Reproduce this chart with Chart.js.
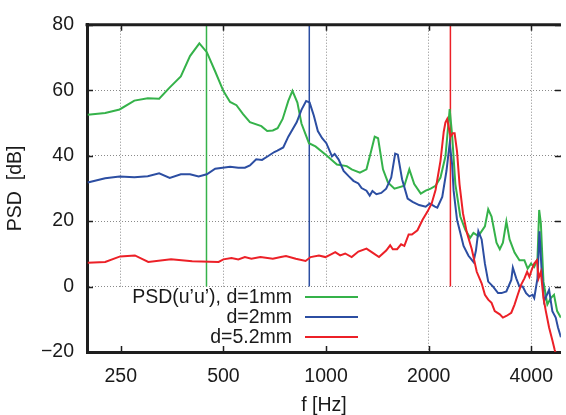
<!DOCTYPE html>
<html>
<head>
<meta charset="utf-8">
<script src="https://cdn.jsdelivr.net/npm/chart.js@4.4.1/dist/chart.umd.min.js"></script>
<style>
  html, body { margin: 0; padding: 0; background: #fff; }
</style>
</head>
<body>
<canvas id="psdChart" width="566" height="415"></canvas>
<script>
// PSD of u'u' for three nozzle diameters (log frequency axis)

const xTicks = [250, 500, 1000, 2000, 4000];
const yTicks = [-20, 0, 20, 40, 60, 80];

// d = 1mm
const freq1 = [200, 225, 248, 274, 300, 324, 347, 375, 399, 425, 447, 473, 500, 523, 546, 571, 598, 646, 672, 698,
    721, 746, 775, 797, 824, 847, 891, 931, 1002, 1076, 1150, 1189, 1257, 1314, 1359, 1389, 1421, 1469, 1519, 1587,
    1697, 1755, 1814, 1896, 1960, 2027, 2095, 2166, 2240, 2305, 2343, 2395, 2476, 2560, 2646, 2706, 2797, 2924, 2990, 3058,
    3162, 3233, 3302, 3380, 3454, 3572, 3692, 3818, 3903, 3992, 4080, 4170, 4218, 4266, 4342, 4458, 4563, 4663, 4762, 4885];
const psd1 = [52.5, 53.0, 54.1, 56.8, 57.5, 57.4, 60.7, 64.2, 70.4, 74.3, 71.6, 65.7, 59.7, 56.4, 55.4, 52.7, 50.2, 49.0, 47.5, 47.7,
    48.4, 51.2, 56.7, 59.8, 56.2, 49.8, 43.8, 42.8, 40.1, 37.3, 36.8, 35.8, 34.8, 35.8, 41.8, 45.8, 45.3, 35.8, 31.8, 29.9,
    30.8, 35.8, 31.3, 28.4, 29.3, 29.9, 30.8, 33.3, 39.8, 54.2, 46.3, 31.3, 21.4, 17.4, 14.9, 16.4, 15.4, 18.4, 23.6, 21.4,
    13.4, 11.4, 13.4, 19.9, 14.4, 10.4, 8.0, 8.0, 5.5, 7.0, 6.0, 8.5, 23.4, 19.4, 1.5, -5.5, -3.5, -2.5, -7.5, -9.5];

// d = 2mm
const freq2 = [200, 225, 248, 274, 300, 324, 348, 375, 399, 423, 447, 473, 523, 553, 578, 598, 624, 649, 675, 705,
    720, 749, 775, 820, 847, 874, 895, 921, 946, 974, 1002, 1041, 1060, 1089, 1126, 1163, 1203, 1244, 1271, 1314,
    1343, 1368, 1405, 1452, 1501, 1553, 1595, 1624, 1671, 1735, 1794, 1875, 1960, 2014, 2086, 2120, 2192, 2255, 2305, 2343,
    2367, 2422, 2476, 2531, 2617, 2706, 2752, 2797, 2860, 2924, 2990, 3090, 3195, 3270, 3380, 3494, 3531, 3613, 3692, 3774,
    3861, 3948, 4034, 4080, 4170, 4226, 4285, 4362, 4510, 4611, 4717, 4790, 4885];
const psd2 = [31.8, 33.1, 33.6, 33.4, 33.7, 34.6, 33.2, 34.3, 34.3, 33.6, 34.3, 36.0, 36.6, 36.3, 36.3, 37.0, 38.9, 38.7, 39.8, 41.1,
    41.5, 42.5, 45.8, 50.2, 54.0, 56.7, 56.2, 52.2, 47.5, 45.3, 43.8, 39.8, 40.5, 38.8, 35.3, 33.8, 32.3, 31.5, 30.1, 29.3,
    27.8, 29.2, 28.2, 28.6, 29.9, 33.3, 40.6, 40.3, 32.8, 26.9, 25.9, 24.9, 24.4, 25.4, 24.4, 24.1, 27.4, 35.3, 43.8, 37.3,
    29.3, 20.4, 16.4, 12.4, 9.4, 7.5, 11.0, 16.9, 14.4, 7.0, 1.5, 0.0, -2.0, -2.0, -1.5, 2.0, 5.8, 2.5, 0.0, 0.0,
    -2.0, -3.0, -2.5, -3.5, 2.5, 16.9, 5.5, -4.5, -1.0, -7.5, -9.5, -12.5, -15.5];

// d = 5.2mm
const freq3 = [200, 225, 249, 275, 301, 351, 405, 484, 500, 528, 553, 578, 604, 642, 698, 737, 763, 815, 871, 901,
    953, 996, 1041, 1064, 1100, 1138, 1189, 1244, 1314, 1375, 1430, 1501, 1542, 1570, 1616, 1660, 1697, 1747, 1786, 1854,
    1919, 1984, 2041, 2095, 2166, 2214, 2240, 2266, 2290, 2316, 2352, 2383, 2422, 2463, 2521, 2589, 2676, 2767, 2860, 2924,
    2990, 3058, 3125, 3233, 3302, 3380, 3494, 3572, 3650, 3733, 3818, 3888, 3948, 4008, 4080, 4155, 4200, 4266, 4342, 4412,
    4510, 4611, 4685, 4885];
const psd3 = [7.3, 7.5, 9.2, 9.5, 7.5, 8.3, 7.7, 7.5, 8.3, 8.7, 8.3, 9.0, 8.5, 9.0, 8.5, 9.0, 9.3, 8.5, 7.8, 9.0,
    9.5, 9.0, 10.0, 10.5, 9.5, 10.1, 9.0, 10.7, 11.6, 10.2, 9.0, 11.0, 12.6, 11.4, 11.4, 12.9, 12.4, 15.9, 15.9, 17.2,
    20.4, 22.9, 25.4, 29.5, 38.4, 47.3, 50.2, 51.2, 48.7, 45.8, 46.8, 46.8, 41.3, 31.3, 22.4, 16.4, 11.4, 4.5, 1.0, -2.5,
    -4.0, -5.0, -7.5, -8.5, -9.5, -9.0, -8.0, -5.5, -2.5, 0.5, 2.5, 4.5, 3.0, 5.0, 7.0, 8.0, 2.5, 4.5, -3.5, -7.5,
    -12.5, -16.4, -19.4, -24];

// vertical marker lines (peak frequencies), drawn from 0 dB to 80 dB
const peakFreqs = [446, 893, 2316];
const peakRange = [0, 80];

const seriesLabels = ['PSD(u\u2019u\u2019), d=1mm', 'd=2mm', 'd=5.2mm'];
const seriesColors = ['#35b24a', '#2c4ea2', '#ec2027'];

const fontFamily = "'Liberation Sans', Arial, Helvetica, sans-serif";
const textColor = '#1a1a1a';
const axisColor = '#1e1e1e';

function toPoints(xs, ys) {
    return xs.map((x, i) => ({ x: x, y: ys[i] }));
}

const seriesData = [toPoints(freq1, psd1), toPoints(freq2, psd2), toPoints(freq3, psd3)];

const datasets = [];
seriesData.forEach((pts, i) => {
    datasets.push({
        label: seriesLabels[i],
        data: pts,
        borderColor: seriesColors[i],
        borderWidth: 2,
        pointRadius: 0,
        tension: 0,
        order: 3 - i
    });
});
peakFreqs.forEach((f, i) => {
    datasets.push({
        label: 'peak' + i,
        data: [{ x: f, y: peakRange[0] }, { x: f, y: peakRange[1] }],
        borderColor: seriesColors[i],
        borderWidth: 1.5,
        pointRadius: 0,
        order: 10
    });
});

// white legend box inside the plot, bottom-left
const legendBox = {
    id: 'legendBox',
    beforeDatasetsDraw(chart) {
        const ctx = chart.ctx;
        ctx.save();
        ctx.fillStyle = '#fff';
        ctx.fillRect(89, 287, 283, 63);
        ctx.restore();
    },
    afterDatasetsDraw(chart) {
        const ctx = chart.ctx;
        ctx.save();
        ctx.font = '19.5px ' + fontFamily;
        ctx.fillStyle = textColor;
        ctx.textAlign = 'right';
        ctx.textBaseline = 'middle';
        seriesLabels.forEach((label, i) => {
            const y = 297 + i * 20;
            ctx.fillText(label, 292, y + 1);
            ctx.strokeStyle = seriesColors[i];
            ctx.lineWidth = 2;
            ctx.beginPath();
            ctx.moveTo(305, y);
            ctx.lineTo(358, y);
            ctx.stroke();
        });
        ctx.restore();
    }
};

// top frame line and inward tick marks
const frame = {
    id: 'frame',
    afterDraw(chart) {
        const ctx = chart.ctx;
        const area = chart.chartArea;
        const xs = chart.scales.x;
        const ys = chart.scales.y;
        ctx.save();
        ctx.strokeStyle = axisColor;
        ctx.lineWidth = 3;
        ctx.beginPath();
        ctx.moveTo(area.left - 1.5, area.top);
        ctx.lineTo(area.right, area.top);
        ctx.stroke();

        ctx.lineWidth = 1.5;
        ctx.beginPath();
        xTicks.forEach(v => {
            const px = Math.round(xs.getPixelForValue(v)) + 0.5;
            ctx.moveTo(px, area.top);
            ctx.lineTo(px, area.top + 6);
            ctx.moveTo(px, area.bottom);
            ctx.lineTo(px, area.bottom - 6);
        });
        yTicks.forEach(v => {
            const py = Math.round(ys.getPixelForValue(v)) + 0.5;
            ctx.moveTo(area.left, py);
            ctx.lineTo(area.left + 6, py);
            ctx.moveTo(area.right, py);
            ctx.lineTo(area.right - 6, py);
        });
        ctx.stroke();
        ctx.restore();
    }
};

const tickFont = { family: fontFamily, size: 19.5 };

new Chart(document.getElementById('psdChart'), {
    type: 'line',
    data: { datasets: datasets },
    plugins: [legendBox, frame],
    options: {
        responsive: false,
        devicePixelRatio: 1,
        animation: false,
        layout: { padding: { top: 17, right: 0, bottom: 0, left: 0 } },
        plugins: {
            legend: { display: false },
            tooltip: { enabled: false }
        },
        scales: {
            x: {
                type: 'logarithmic',
                min: 199,
                max: 4885,
                afterBuildTicks: s => { s.ticks = xTicks.map(v => ({ value: v })); },
                afterFit: s => { s.height = 63; },
                ticks: {
                    callback: v => String(v),
                    font: tickFont,
                    color: textColor,
                    padding: 13,
                    maxRotation: 0,
                    autoSkip: false
                },
                grid: { color: '#8a8a8a', lineWidth: 1, drawTicks: false },
                border: { display: true, color: axisColor, width: 3, dash: [1, 2] },
                title: {
                    display: true,
                    text: 'f [Hz]',
                    color: textColor,
                    font: { family: fontFamily, size: 19.5, lineHeight: 1 },
                    padding: { top: 0, bottom: 0 }
                }
            },
            y: {
                min: -20,
                max: 80,
                afterBuildTicks: s => { s.ticks = yTicks.map(v => ({ value: v })); },
                afterFit: s => { s.width = 87; },
                ticks: {
                    callback: v => v < 0 ? '\u2212' + Math.abs(v) : String(v),
                    font: tickFont,
                    color: textColor,
                    padding: 13
                },
                grid: { color: '#8a8a8a', lineWidth: 1, drawTicks: false },
                border: { display: true, color: axisColor, width: 3, dash: [1, 2] },
                title: {
                    display: true,
                    text: 'PSD  [dB]',
                    color: textColor,
                    font: { family: fontFamily, size: 19.5, lineHeight: 1 },
                    padding: { top: 6, bottom: 0 }
                }
            }
        }
    }
});
</script>
</body>
</html>
